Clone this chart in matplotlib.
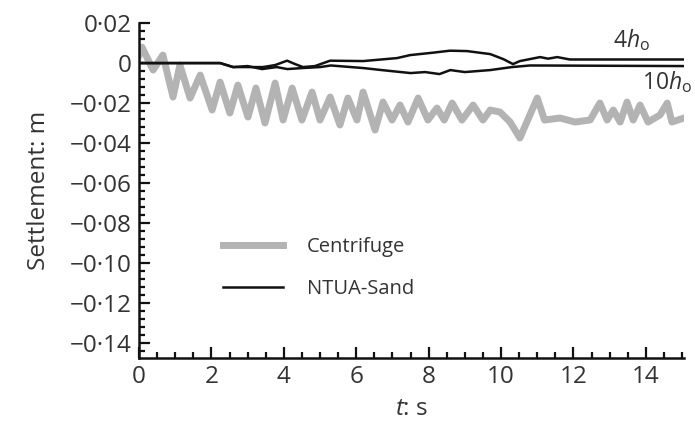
import matplotlib
matplotlib.use("Agg")
import matplotlib.pyplot as plt
from matplotlib.ticker import FixedLocator, MultipleLocator

plt.rcParams["font.family"] = ["Open Sans", "DejaVu Sans"]
plt.rcParams["mathtext.fontset"] = "custom"
plt.rcParams["mathtext.rm"] = "Open Sans"
plt.rcParams["mathtext.it"] = "Open Sans:italic"

# Centrifuge record
cent_t = [0.0, 0.08, 0.39, 0.66, 0.94, 1.13, 1.41, 1.69, 2.02, 2.24, 2.51, 2.73,
          3.01, 3.23, 3.48, 3.76, 3.98, 4.23, 4.5, 4.78, 5.0, 5.28, 5.55, 5.77,
          6.02, 6.19, 6.52, 6.74, 6.99, 7.21, 7.43, 7.71, 7.98, 8.23, 8.43, 8.65,
          8.92, 9.23, 9.5, 9.7, 9.97, 10.25, 10.52, 11.0, 11.2, 11.63, 12.04,
          12.46, 12.73, 12.93, 13.1, 13.29, 13.48, 13.65, 13.84, 14.06, 14.39,
          14.59, 14.72, 15.05]
cent_s = [0.004, 0.008, -0.0035, 0.004, -0.017, -0.001, -0.0175, -0.006, -0.0235,
          -0.0095, -0.025, -0.011, -0.027, -0.0125, -0.03, -0.01, -0.0285, -0.0125,
          -0.0285, -0.0145, -0.0285, -0.017, -0.031, -0.0175, -0.0285, -0.0145,
          -0.0335, -0.0195, -0.0285, -0.021, -0.0295, -0.0175, -0.0285, -0.0225,
          -0.0285, -0.02, -0.0285, -0.021, -0.0285, -0.0235, -0.0245, -0.0295,
          -0.0375, -0.0175, -0.0285, -0.0275, -0.0295, -0.0285, -0.02, -0.0285,
          -0.0235, -0.0295, -0.0195, -0.0285, -0.021, -0.0295, -0.026, -0.02,
          -0.0295, -0.0275]

# NTUA-Sand, 4 h_o
n4_t = [0.0, 2.24, 2.6, 3.07, 3.43, 3.76, 4.09, 4.31, 4.53, 4.86, 5.28, 6.19,
        7.13, 7.49, 8.12, 8.59, 9.06, 9.7, 10.06, 10.33, 10.52, 11.08, 11.3,
        11.55, 11.9, 15.05]
n4_s = [0.0, 0.0, -0.002, -0.002, -0.002, -0.001, 0.0012, -0.0005, -0.002,
        -0.0015, 0.0012, 0.001, 0.0025, 0.004, 0.0052, 0.0062, 0.006, 0.0045,
        0.002, -0.0005, 0.001, 0.003, 0.0022, 0.003, 0.0018, 0.0018]

# NTUA-Sand, 10 h_o
n10_t = [0.0, 2.24, 2.6, 3.0, 3.4, 3.8, 4.1, 4.5, 5.0, 5.3, 6.2, 6.7, 7.5, 7.9,
         8.3, 8.6, 9.0, 9.7, 10.3, 10.8, 15.05]
n10_s = [0.0, 0.0, -0.002, -0.0015, -0.003, -0.002, -0.003, -0.0025, -0.002,
         -0.0012, -0.0025, -0.0035, -0.005, -0.0045, -0.0055, -0.0035, -0.0045,
         -0.0035, -0.002, -0.0012, -0.0015]

y_ticks = [0.02, 0.0, -0.02, -0.04, -0.06, -0.08, -0.10, -0.12, -0.14]
y_labels = ["0·02", "0", "−0·02", "−0·04", "−0·06", "−0·08", "−0·10", "−0·12", "−0·14"]
x_ticks = [0, 2, 4, 6, 8, 10, 12, 14]

fig = plt.figure(figsize=(6.95, 4.28), dpi=100)
ax = fig.add_axes([0.2, 0.164, 0.784, 0.782])

ax.plot(cent_t, cent_s, color="#b3b3b3", lw=5, solid_joinstyle="round",
        label="Centrifuge")
ax.plot(n4_t, n4_s, color="#111111", lw=1.8, label="NTUA-Sand")
ax.plot(n10_t, n10_s, color="#111111", lw=1.8)

ax.set_xlim(0, 15.05)
ax.set_ylim(-0.1475, 0.02)

ax.yaxis.set_major_locator(FixedLocator(y_ticks))
ax.set_yticklabels(y_labels)
ax.yaxis.set_minor_locator(MultipleLocator(0.004))
ax.xaxis.set_major_locator(FixedLocator(x_ticks))
ax.xaxis.set_minor_locator(MultipleLocator(0.5))

for side in ("top", "right"):
    ax.spines[side].set_visible(False)
for side in ("left", "bottom"):
    ax.spines[side].set_linewidth(1.8)
    ax.spines[side].set_color("#111111")

ax.tick_params(which="both", direction="in", width=1.6, color="#111111",
               labelsize=17.5, labelcolor="#333333")
ax.tick_params(which="major", length=8, pad=5)
ax.tick_params(which="minor", length=4)

ax.set_xlabel(r"$\mathit{t}$: s", fontsize=17.5, color="#333333", labelpad=6)
ax.set_ylabel("Settlement: m", fontsize=17.5, color="#333333", labelpad=14)

ax.text(13.1, 0.0115, r"4$\mathit{h}_\mathrm{o}$", fontsize=16.5, color="#333333",
        va="center", ha="left")
ax.text(13.9, -0.0095, r"10$\mathit{h}_\mathrm{o}$", fontsize=16.5, color="#333333",
        va="center", ha="left", clip_on=False)

ax.legend(loc="upper left", bbox_to_anchor=(0.12, 0.415), frameon=False,
          fontsize=14.5, handlelength=3.0, labelspacing=1.1, handletextpad=1.2,
          labelcolor="#333333")

fig.savefig("out.png", dpi=100)
